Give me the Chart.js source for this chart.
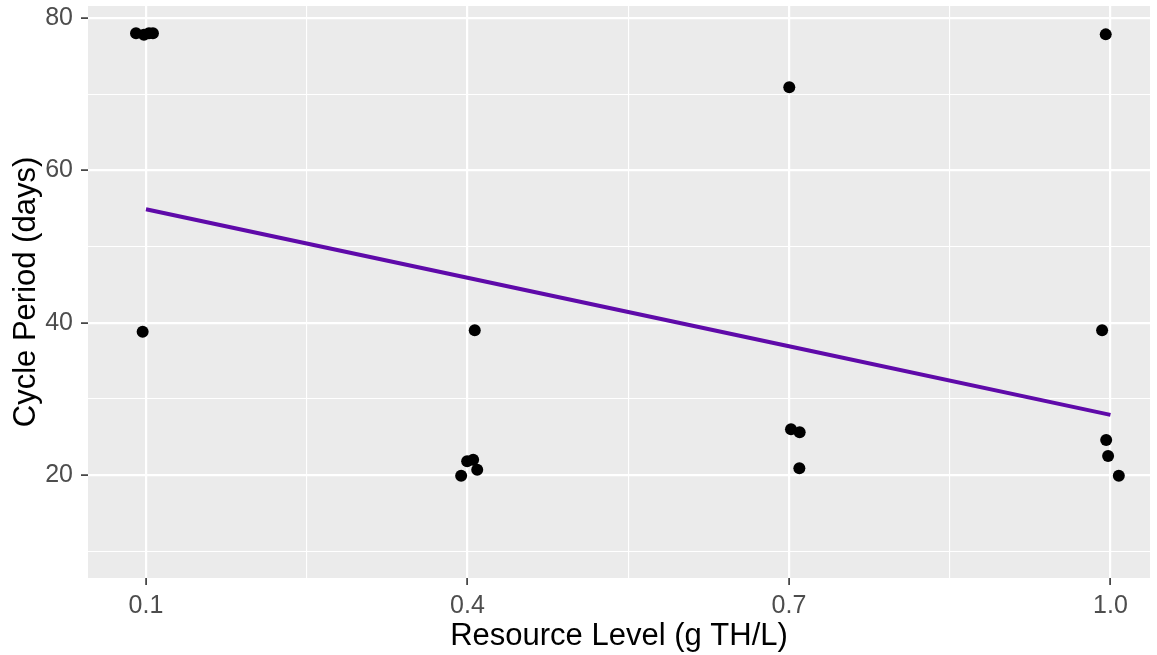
<!DOCTYPE html>
<html>
<head>
<meta charset="utf-8">
<script src="https://cdn.jsdelivr.net/npm/chart.js@4.4.0/dist/chart.umd.min.js"></script>
<style>
  html, body { margin: 0; padding: 0; background: #fff; }
  #wrap { width: 1157px; height: 655px; }
</style>
</head>
<body>
<div id="wrap"><canvas id="chart" width="1157" height="655"></canvas></div>
<script>
// ---- data ----
const resourceX = [0.0907, 0.0981, 0.1028, 0.1065, 0.0969,
                   0.4068, 0.3941, 0.3997, 0.4053, 0.4091,
                   0.7003, 0.7019, 0.7100, 0.7097,
                   0.9956, 0.9922, 0.9960, 0.9978, 1.0078];
const periodY   = [78.0, 77.8, 78.0, 78.0, 38.8,
                   39.0, 19.9, 21.8, 22.0, 20.7,
                   70.9, 26.0, 25.6, 20.9,
                   77.85, 39.0, 24.6, 22.5, 19.9];

// fitted trend line
const fitX = [0.1, 0.4, 0.7, 1.0];
const fitY = [54.9, 45.9, 36.9, 27.9];

// axis ticks
const xMajor  = [0.1, 0.4, 0.7, 1.0];
const xMinor  = [0.25, 0.55, 0.85];
const xLabels = ["0.1", "0.4", "0.7", "1.0"];
const yMajor  = [20, 40, 60, 80];
const yMinor  = [10, 30, 50, 70];
const yLabels = ["20", "40", "60", "80"];

Chart.defaults.font.family = "'Liberation Sans', Arial, sans-serif";

// grey panel behind the plot
const panelBg = {
  id: "panelBg",
  beforeDraw(chart) {
    const { ctx, chartArea: a } = chart;
    ctx.save();
    ctx.fillStyle = "#EBEBEB";
    ctx.fillRect(a.left, a.top, a.right - a.left, a.bottom - a.top);
    ctx.restore();
  }
};

function gridFor(major) {
  return {
    color: "#FFFFFF",
    lineWidth: c => major.includes(c.tick.value) ? 2.2 : 1.1,
    tickColor: c => major.includes(c.tick.value) ? "#333333" : "rgba(0,0,0,0)",
    tickWidth: 1.6,
    tickLength: 7,
    drawOnChartArea: true
  };
}

const ctx = document.getElementById("chart").getContext("2d");
new Chart(ctx, {
  type: "scatter",
  data: {
    datasets: [
      {
        label: "fit",
        type: "line",
        data: fitX.map((x, i) => ({ x: x, y: fitY[i] })),
        borderColor: "#5F0AA9",
        borderWidth: 4,
        pointRadius: 0,
        tension: 0,
        fill: false,
        order: 0
      },
      {
        label: "observed",
        data: resourceX.map((x, i) => ({ x: x, y: periodY[i] })),
        backgroundColor: "#000000",
        borderWidth: 0,
        pointRadius: 6,
        order: 1
      }
    ]
  },
  options: {
    responsive: false,
    animation: false,
    devicePixelRatio: 1,
    layout: { padding: { top: 6, right: 7, left: 0, bottom: 0 } },
    plugins: {
      legend: { display: false },
      tooltip: { enabled: false }
    },
    scales: {
      x: {
        type: "linear",
        min: 0.0459,
        max: 1.0369,
        afterBuildTicks: s => {
          s.ticks = [...xMinor, ...xMajor].sort((a, b) => a - b).map(v => ({ value: v }));
        },
        afterFit: s => {
          s.height = 77;
          s.paddingLeft = 0;
          s.paddingRight = 0;
        },
        border: { display: false },
        grid: gridFor(xMajor),
        ticks: {
          autoSkip: false,
          maxRotation: 0,
          padding: 6,
          color: "#4D4D4D",
          font: { size: 25 },
          callback: v => {
            const i = xMajor.indexOf(v);
            return i >= 0 ? xLabels[i] : "";
          }
        },
        title: {
          display: true,
          text: "Resource Level (g TH/L)",
          color: "#000000",
          font: { size: 31 },
          padding: { top: 0, bottom: 0 }
        }
      },
      y: {
        type: "linear",
        min: 6.48,
        max: 81.575,
        afterBuildTicks: s => {
          s.ticks = [...yMinor, ...yMajor].sort((a, b) => a - b).map(v => ({ value: v }));
        },
        afterFit: s => {
          s.width = 88;
          s.paddingTop = 0;
          s.paddingBottom = 0;
        },
        border: { display: false },
        grid: gridFor(yMajor),
        ticks: {
          autoSkip: false,
          padding: 8,
          color: "#4D4D4D",
          font: { size: 25 },
          callback: v => {
            const i = yMajor.indexOf(v);
            return i >= 0 ? yLabels[i] : "";
          }
        },
        title: {
          display: true,
          text: "Cycle Period (days)",
          color: "#000000",
          font: { size: 31 },
          padding: { top: 8, bottom: 0 }
        }
      }
    }
  },
  plugins: [panelBg]
});
</script>
</body>
</html>
